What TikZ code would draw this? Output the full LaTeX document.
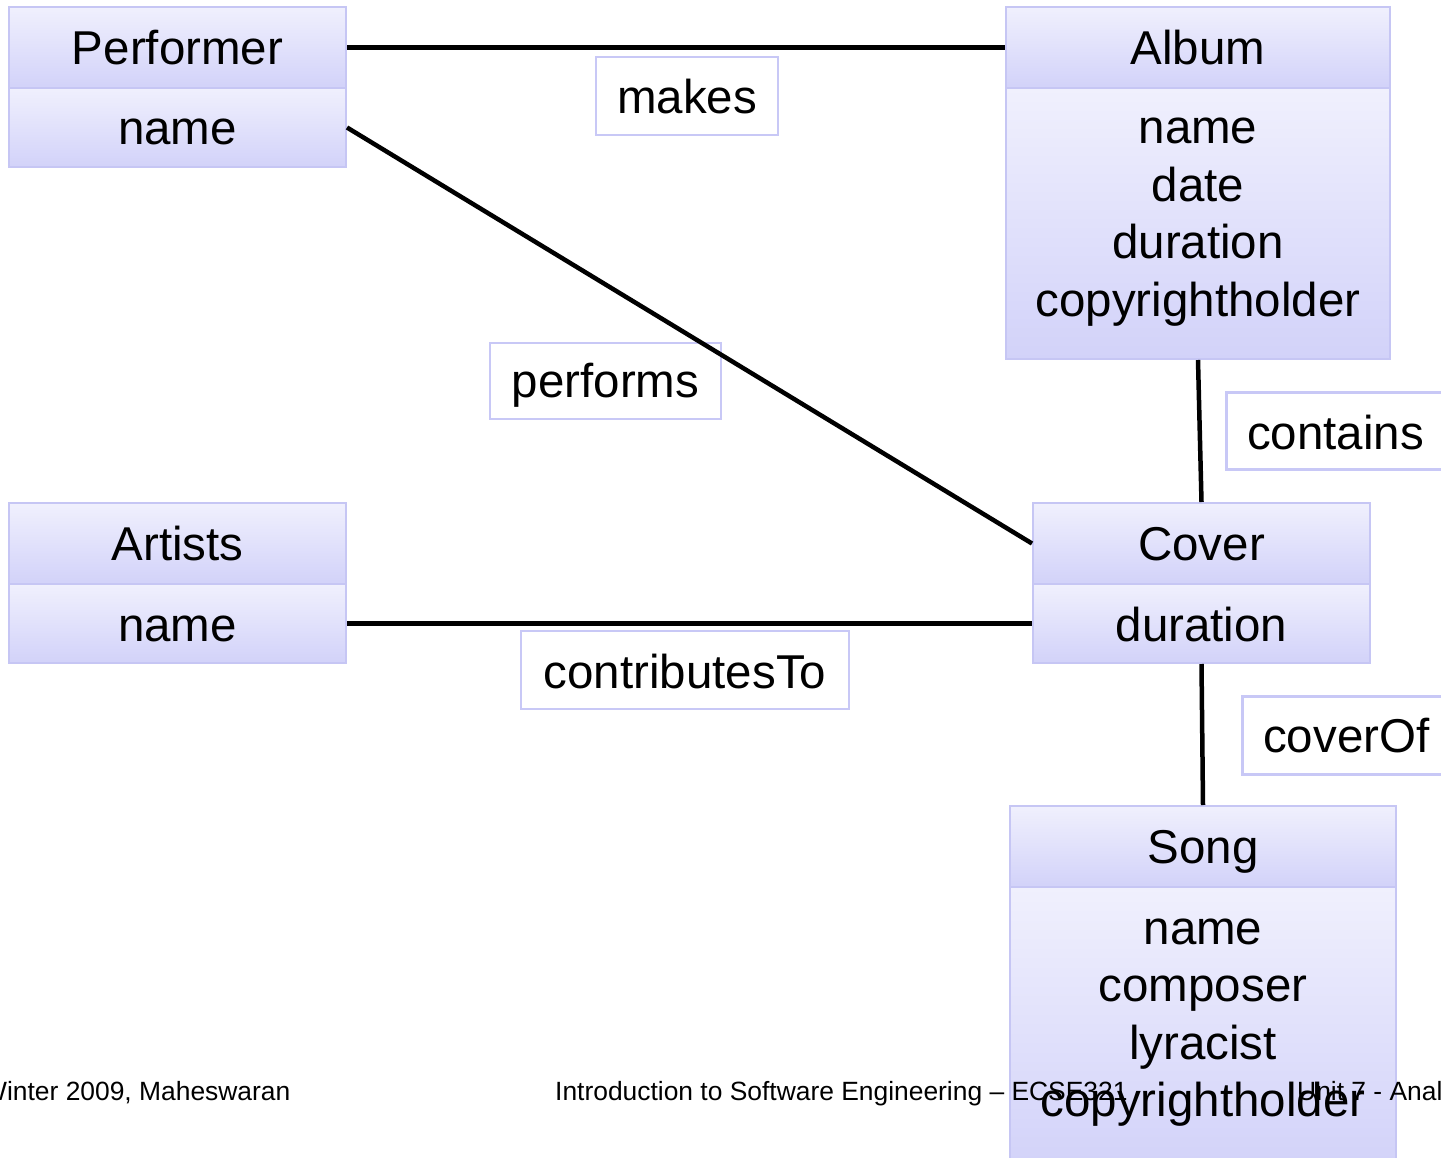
\documentclass[tikz,border=0pt]{standalone}
\usepackage{fontspec}
\setmainfont{Liberation Sans}
\usetikzlibrary{calc}
\definecolor{boxtop}{HTML}{F0F0FD}
\definecolor{boxbot}{HTML}{D2D2F9}
\definecolor{boxline}{HTML}{C6C6F4}
\definecolor{lblline}{HTML}{C8C8F6}
\tikzset{
  cls/.style={rectangle, draw=boxline, line width=2pt, top color=boxtop, bottom color=boxbot, inner sep=0pt},
  relbox/.style={rectangle, draw=lblline, line width=2.5pt, fill=white, inner sep=0pt},
  txt/.style={anchor=base, inner sep=0pt, font=\fontsize{47.5}{57}\selectfont},
  foot/.style={anchor=base west, inner sep=0pt, font=\fontsize{26.4}{30}\selectfont},
  conn/.style={line width=4.5pt, black}
}
\begin{document}
\begin{tikzpicture}[x=1pt,y=-1pt]
\useasboundingbox (0,0) rectangle (1441,1158);
\clip (0,0) rectangle (1441,1158);
\fill[white] (0,0) rectangle (1441,1158);

% relationship labels
\node[relbox, minimum width=182, minimum height=78] (makesL) at (687,96) {};
\node[txt] at ($(makesL.center)+(0,18)$) {makes};
\node[relbox, minimum width=231, minimum height=76] (perfL) at (605.5,381) {};
\node[txt] at ($(perfL.center)+(0,17)$) {performs};
\node[relbox, minimum width=240, minimum height=77, anchor=north west] (contL) at (1225,391) {};
\node[txt, anchor=base west] at (1247,449) {contains};
\node[relbox, minimum width=328, minimum height=78] (contrL) at (685,670) {};
\node[txt] at ($(contrL.center)+(0,18)$) {contributesTo};
\node[relbox, minimum width=240, minimum height=78, anchor=north west] (covL) at (1241,695) {};
\node[txt, anchor=base west] at (1263,752) {coverOf};

% Performer
\node[cls, minimum width=337, minimum height=81] (perfH) at (177.5,47.5) {};
\node[cls, minimum width=337, minimum height=79] (perfB) at (177.5,127.5) {};
\node[txt] at ($(perfH.center)+(0,17)$) {Performer};
\node[txt] at ($(perfB.center)+(0,17.5)$) {name};

% Album
\node[cls, minimum width=384, minimum height=81] (albH) at (1198,47.5) {};
\node[cls, minimum width=384, minimum height=271] (albB) at (1198,223.5) {};
\node[txt] at ($(albH.center)+(0,17)$) {Album};
\foreach \t [count=\i from 0] in {name,date,duration,copyrightholder}
  \node[txt] at ($(albB.north)+(0,57+57.5*\i)$) {\t};

% Artists
\node[cls, minimum width=337, minimum height=81] (artH) at (177.5,543.5) {};
\node[cls, minimum width=337, minimum height=79] (artB) at (177.5,623.5) {};
\node[txt] at ($(artH.center)+(0,17)$) {Artists};
\node[txt] at ($(artB.center)+(0,17.5)$) {name};

% Cover
\node[cls, minimum width=337, minimum height=81] (covH) at (1201.5,543.5) {};
\node[cls, minimum width=337, minimum height=79] (covB) at (1201.5,623.5) {};
\node[txt] at ($(covH.center)+(0,17)$) {Cover};
\node[txt] at ($(covB.center)+(0,17.5)$) {duration};

% Song
\node[cls, minimum width=386, minimum height=81] (songH) at (1203,846.5) {};
\node[cls, minimum width=386, minimum height=283] (songB) at (1203,1028.5) {};
\node[txt] at ($(songH.center)+(0,17)$) {Song};
\foreach \t [count=\i from 0] in {name,composer,lyracist,copyrightholder}
  \node[txt] at ($(songB.north)+(0,58+57.5*\i)$) {\t};

% associations
\draw[conn] (perfH.east) -- (albH.west);
\draw[conn] (perfB.east) -- (covH.west);
\draw[conn] (albB.south) -- (covH.north);
\draw[conn] (artB.east) -- (covB.west);
\draw[conn] (covB.south) -- (songH.north);

% slide footer
\node[foot] (f1) at (-18,1100) {Winter 2009, Maheswaran};
\node[foot] (f2) at (555,1100) {Introduction to Software Engineering – ECSE321};
\node[foot] (f3) at (1297,1100) {Unit 7 - Analysis};
\end{tikzpicture}
\end{document}
